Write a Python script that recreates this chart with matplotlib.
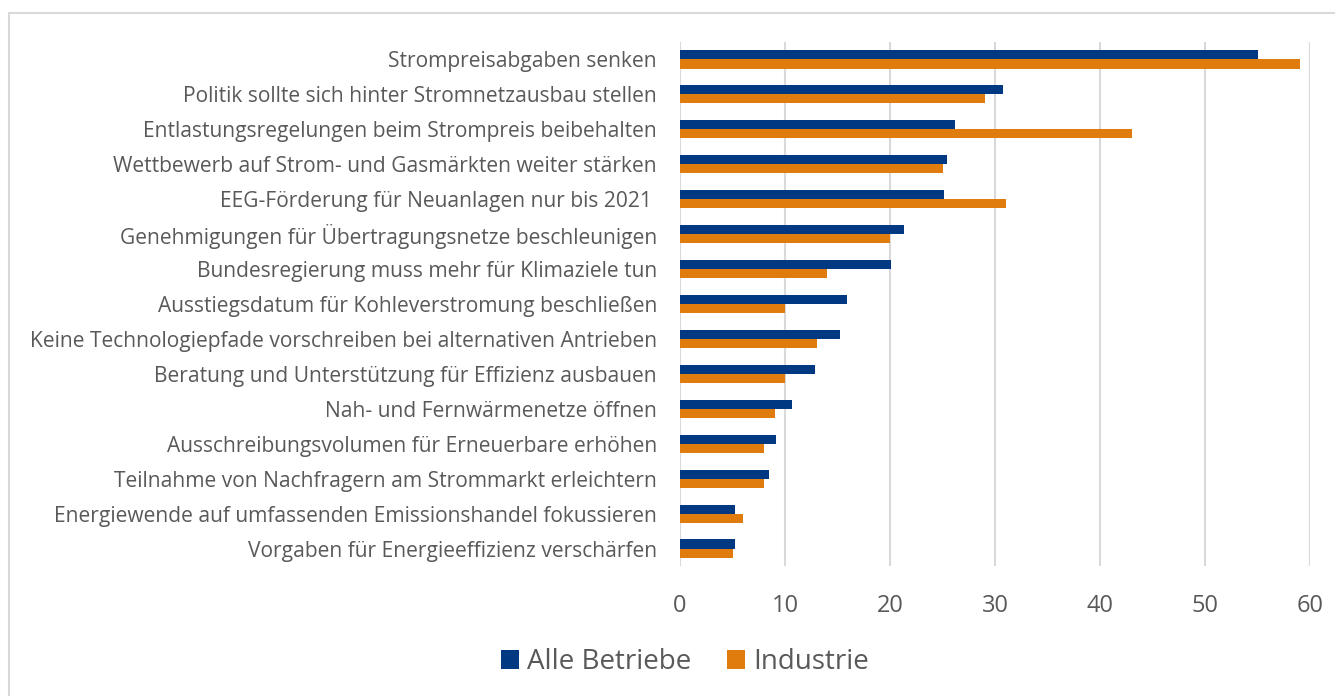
import numpy as np
import matplotlib
matplotlib.use('Agg')
import matplotlib.pyplot as plt
from matplotlib.patches import Rectangle

plt.rcParams['font.family'] = ['Open Sans', 'DejaVu Sans']

# categories from top to bottom
massnahmen = [
    'Strompreisabgaben senken',
    'Politik sollte sich hinter Stromnetzausbau stellen',
    'Entlastungsregelungen beim Strompreis beibehalten',
    'Wettbewerb auf Strom- und Gasmärkten weiter stärken',
    'EEG-Förderung für Neuanlagen nur bis 2021 ',
    'Genehmigungen für Übertragungsnetze beschleunigen',
    'Bundesregierung muss mehr für Klimaziele tun',
    'Ausstiegsdatum für Kohleverstromung beschließen',
    'Keine Technologiepfade vorschreiben bei alternativen Antrieben',
    'Beratung und Unterstützung für Effizienz ausbauen',
    'Nah- und Fernwärmenetze öffnen',
    'Ausschreibungsvolumen für Erneuerbare erhöhen',
    'Teilnahme von Nachfragern am Strommarkt erleichtern',
    'Energiewende auf umfassenden Emissionshandel fokussieren',
    'Vorgaben für Energieeffizienz verschärfen',
]
alle_betriebe = [55, 30.8, 26.2, 25.4, 25.1, 21.3, 20.1, 15.9, 15.2, 12.9, 10.7, 9.1, 8.5, 5.2, 5.2]
industrie = [59, 29, 43, 25, 31, 20, 14, 10, 13, 10, 9, 8, 8, 6, 5]
x_ticks = [0, 10, 20, 30, 40, 50, 60]

blau = '#003882'
orange = '#E07B0E'
grau = '#595959'

fig = plt.figure(figsize=(13.35, 6.96), dpi=100)
fig.patches.append(Rectangle((9 / 1335, -0.05), 1.1, 1 - 13 / 696 + 0.05,
                             transform=fig.transFigure, fill=False,
                             edgecolor='#D9D9D9', linewidth=1.5))

ax = fig.add_axes([680 / 1335, 1 - 566 / 696, 630 / 1335, 524 / 696])

y = np.arange(len(massnahmen))
h = 0.26
ax.barh(y - h / 2, alle_betriebe, height=h, color=blau, label='Alle Betriebe', zorder=3)
ax.barh(y + h / 2, industrie, height=h, color=orange, label='Industrie', zorder=3)

ax.set_ylim(len(massnahmen) - 0.5, -0.5)
ax.set_xlim(0, 60)
ax.set_xticks(x_ticks)
ax.set_yticks(y)
ax.set_yticklabels(massnahmen, fontsize=15.1, color=grau)
ax.tick_params(axis='x', labelsize=17, colors=grau, length=0, pad=20)
ax.tick_params(axis='y', length=0, pad=16.5)
ax.grid(axis='x', color='#D9D9D9', linewidth=1.5, zorder=0)
for s in ax.spines.values():
    s.set_visible(False)

leg = fig.legend(loc='center', bbox_to_anchor=(685 / 1335, 1 - 662 / 696), ncol=2,
                 frameon=False, fontsize=20, handlelength=0.65, handleheight=0.65,
                 handletextpad=0.3, columnspacing=1.3)
for t in leg.get_texts():
    t.set_color(grau)

fig.savefig('out.png', dpi=100)
